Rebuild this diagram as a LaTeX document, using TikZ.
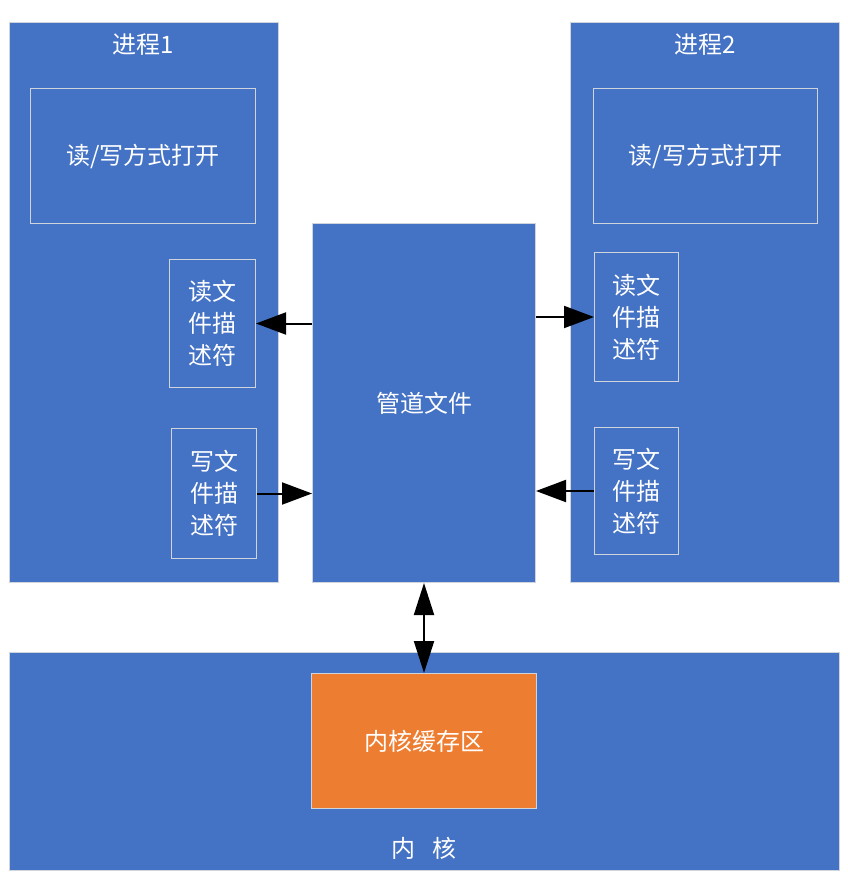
\documentclass[tikz,border=0pt]{standalone}
\usepackage{fontspec}
\newfontfamily\cjk{Noto Sans CJK SC}
\usetikzlibrary{arrows.meta}
\definecolor{officeblue}{HTML}{4472C4}
\definecolor{officeorange}{HTML}{ED7D31}
\definecolor{paleline}{HTML}{D0D4DC}
\tikzset{
  caja/.style={
    draw=paleline,
    line width=1pt,
    fill=officeblue,
    text=white,
    align=center,
    anchor=north west,
    inner sep=0pt,
    font=\cjk\fontsize{24}{32}\selectfont
  },
  etiqueta/.style={
    text=white,
    inner sep=0pt,
    font=\cjk\fontsize{24}{32}\selectfont
  },
  flecha/.style={
    -{Triangle[length=30pt,width=22pt]},
    line width=2pt,
    black
  },
  doble/.style={
    {Triangle[length=32pt,width=20pt]}-{Triangle[length=32pt,width=20pt]},
    line width=2pt,
    black
  }
}

\begin{document}
\begin{tikzpicture}[x=1pt,y=-1pt]
\useasboundingbox (0,0) rectangle (847,881);
% procesos
\node[caja, minimum width=269pt, minimum height=560pt] (p1) at (9,22) {};
\node[caja, minimum width=269pt, minimum height=560pt] (p2) at (570,22) {};
\node[etiqueta] (t1) at (143,45) {进程1};
\node[etiqueta] (t2) at (705,45) {进程2};
\node[caja, minimum width=225pt, minimum height=135pt] (open1) at (30,88) {读/写方式打开};
\node[caja, minimum width=224pt, minimum height=135pt] (open2) at (593,88) {读/写方式打开};
\node[caja, minimum width=86pt, minimum height=128pt] (rd1) at (169,259) {读文\\件描\\述符};
\node[caja, minimum width=85pt, minimum height=130pt] (wr1) at (171,428) {写文\\件描\\述符};
\node[caja, minimum width=84pt, minimum height=129pt] (rd2) at (594,252) {读文\\件描\\述符};
\node[caja, minimum width=84pt, minimum height=127pt] (wr2) at (594,427) {写文\\件描\\述符};
% tubo
\node[caja, minimum width=223pt, minimum height=359pt] (pipe) at (312,223) {管道文件};
% nucleo
\node[caja, minimum width=830pt, minimum height=218pt] (kern) at (9,652) {};
\node[caja, fill=officeorange, minimum width=225pt, minimum height=135pt] (buf) at (311,673) {内核缓存区};
\node[etiqueta] (tk) at (424,848) {内\hspace{0.7em}核};
% flechas
\draw[flecha] (pipe.west |- rd1.east) -- (rd1.east);
\draw[flecha] (wr1.east) -- (pipe.west |- wr1.east);
\draw[flecha] (pipe.east |- rd2.west) -- (rd2.west);
\draw[flecha] (wr2.west) -- (pipe.east |- wr2.west);
\draw[doble] (pipe.south) -- (buf.north);
\end{tikzpicture}
\end{document}
